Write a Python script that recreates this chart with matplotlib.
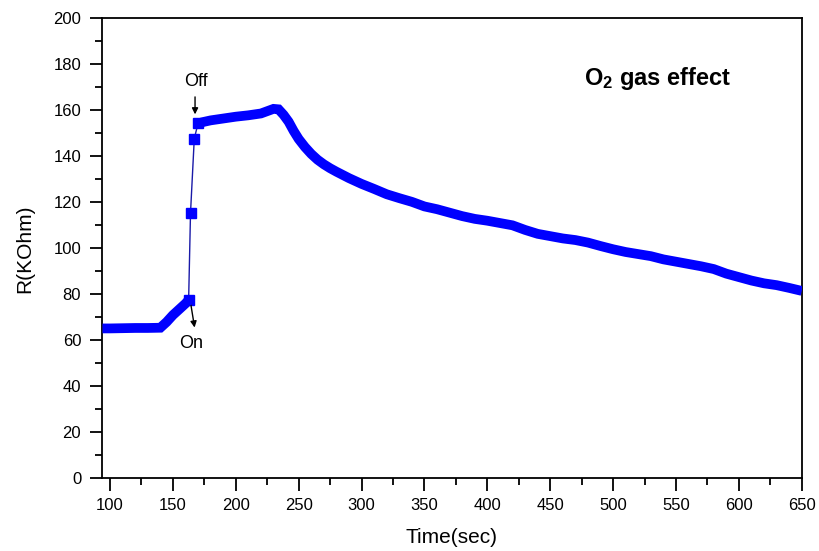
#!/usr/bin/env python
# -*- coding: utf-8 -*-

import matplotlib
matplotlib.use('Agg')
import matplotlib.pyplot as plt
from matplotlib.ticker import MultipleLocator

# time (sec) and resistance (KOhm)
time = [94, 100, 110, 120, 130, 140, 145, 150, 155, 160, 162.5,
	164, 167,
	170, 175, 180, 190, 200, 210, 220, 226, 230, 234, 238, 242, 246,
	250, 255, 260, 265, 270, 275, 280, 290, 300, 310, 320, 330, 340,
	350, 360, 370, 380, 390, 400, 410, 420, 430, 440, 450, 460, 470,
	480, 490, 500, 510, 520, 530, 540, 550, 560, 570, 580, 590, 600,
	610, 620, 630, 640, 650]
resist = [65.2, 65.2, 65.3, 65.4, 65.4, 65.5, 68.0, 71.0, 73.5, 76.0, 77.5,
	115.4, 147.7,
	154.3, 155.0, 155.6, 156.4, 157.2, 157.8, 158.6, 159.8, 160.6, 160.4, 158.0, 155.0, 151.0,
	147.5, 144.0, 141.0, 138.5, 136.5, 134.8, 133.3, 130.5, 128.0, 125.8, 123.5, 121.8, 120.2,
	118.2, 117.0, 115.5, 114.0, 112.8, 112.0, 111.0, 110.0, 108.0, 106.3, 105.3, 104.3, 103.6,
	102.5, 101.0, 99.6, 98.4, 97.5, 96.6, 95.2, 94.2, 93.2, 92.2, 91.0, 89.0, 87.5,
	86.0, 84.8, 84.0, 82.8, 81.5]

# index of last point before gas on / first point after gas off
i_on = 10
i_off = 13

x_ticks = [100, 150, 200, 250, 300, 350, 400, 450, 500, 550, 600, 650]
y_ticks = [0, 20, 40, 60, 80, 100, 120, 140, 160, 180, 200]


def plot_response():
	plt.rcParams['font.family'] = ['Liberation Sans', 'DejaVu Sans']
	plt.rcParams['mathtext.default'] = 'regular'

	fig = plt.figure(figsize=(8.19, 5.51), dpi=100)
	ax = fig.add_axes([0.1245, 0.1316, 0.8545, 0.8354])

	# dense sampling shows up as a solid band; the jump has a few lone squares
	ax.plot(time[i_on:i_off + 1], resist[i_on:i_off + 1], color='#1a1aa8', lw=1.0,
		marker='s', ms=6.5, mfc='blue', mec='blue', zorder=3)
	ax.plot(time[:i_on + 1], resist[:i_on + 1], color='blue', lw=7,
		solid_joinstyle='miter', solid_capstyle='butt', zorder=4)
	ax.plot(time[i_off:], resist[i_off:], color='blue', lw=7,
		solid_joinstyle='miter', solid_capstyle='butt', zorder=4)

	# on / off markers
	ax.annotate('', xy=(167.6, 157.0), xytext=(167.6, 167.0),
		arrowprops=dict(arrowstyle='-|>', color='black', lw=1.0, mutation_scale=9))
	ax.annotate('', xy=(167.6, 64.4), xytext=(164.0, 76.5),
		arrowprops=dict(arrowstyle='-|>', color='black', lw=1.0, mutation_scale=9))
	ax.text(168.0, 172.3, 'Off', fontsize=13, ha='center', va='center')
	ax.text(164.5, 58.5, 'On', fontsize=13, ha='center', va='center')

	ax.text(477, 171, 'O$_{2}$ gas effect', fontsize=17, fontweight='bold',
		ha='left', va='baseline')

	# axes
	ax.set_xlim(93.6, 650)
	ax.set_ylim(0, 200)
	ax.set_xticks(x_ticks)
	ax.set_yticks(y_ticks)
	ax.xaxis.set_minor_locator(MultipleLocator(25))
	ax.yaxis.set_minor_locator(MultipleLocator(10))
	ax.tick_params(which='both', direction='out', width=1.3, top=False, right=False)
	ax.tick_params(which='major', length=9, labelsize=12)
	ax.tick_params(which='minor', length=5)
	ax.tick_params(axis='x', pad=5)
	ax.tick_params(axis='y', pad=6)
	for s in ax.spines.values():
		s.set_linewidth(1.3)

	ax.set_xlabel('Time(sec)', fontsize=15, labelpad=11)
	ax.set_ylabel('R(KOhm)', fontsize=15, labelpad=14)

	fig.savefig('out.png', dpi=100)
	return


#####

if __name__ == "__main__":
	plot_response()
